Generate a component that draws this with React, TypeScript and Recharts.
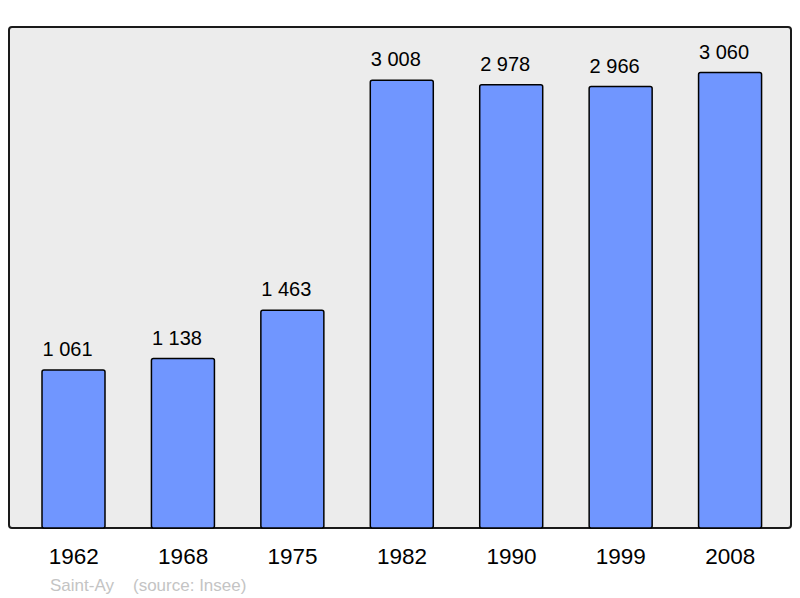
import React from 'react';
import { BarChart, Bar, XAxis, YAxis, LabelList, usePlotArea } from 'recharts';

const years = ['1962', '1968', '1975', '1982', '1990', '1999', '2008'];
const population = [1061, 1138, 1463, 3008, 2978, 2966, 3060];
const commune = 'Saint-Ay';
const source = '(source: Insee)';

const data = years.map((year, i) => ({ year, value: population[i] }));

const FONT = '"Liberation Sans", Arial, sans-serif';

// 1061 -> "1 061"
const formatValue = (v) => String(v).replace(/\B(?=(\d{3})+(?!\d))/g, ' ');

const PlotBackground = () => {
  const area = usePlotArea();
  if (!area) return null;
  return (
    <rect
      x={area.x}
      y={area.y}
      width={area.width}
      height={area.height}
      rx={3}
      ry={3}
      fill="#ececec"
      stroke="#1a1a1a"
      strokeWidth={2}
    />
  );
};

const YearTick = ({ x, y, payload }) => (
  <text x={x} y={y + 36} textAnchor="middle" fontSize={22.5} fontFamily={FONT} fill="#000">
    {payload.value}
  </text>
);

const ValueLabel = ({ x, y, width, value }) => (
  <text
    x={x + width / 2 - 6}
    y={y - 14}
    textAnchor="middle"
    fontSize={20}
    fontFamily={FONT}
    fill="#000"
  >
    {formatValue(value)}
  </text>
);

const App = () => {
  return (
    <div style={{ position: 'absolute', left: 0, top: 0, width: 800, height: 598, background: '#fff' }}>
      <BarChart
        width={800}
        height={598}
        data={data}
        margin={{ top: 27, right: 9, bottom: 0, left: 9 }}
        barCategoryGap={0}
      >
        <PlotBackground />
        <XAxis
          dataKey="year"
          height={70}
          axisLine={false}
          tickLine={false}
          tickSize={0}
          tickMargin={0}
          padding={{ left: 10, right: 6 }}
          tick={<YearTick />}
          interval={0}
        />
        <YAxis hide domain={[0, 3366]} />
        <Bar
          dataKey="value"
          barSize={63}
          fill="#7096ff"
          stroke="#000"
          strokeWidth={1.5}
          radius={2}
          isAnimationActive={false}
        >
          <LabelList dataKey="value" content={<ValueLabel />} />
        </Bar>
        <text x={50} y={591} fontSize={17} fontFamily={FONT} fill="#c4c4c4">
          {commune}
        </text>
        <text x={133} y={591} fontSize={17} fontFamily={FONT} fill="#c4c4c4">
          {source}
        </text>
      </BarChart>
    </div>
  );
};

export default App;
